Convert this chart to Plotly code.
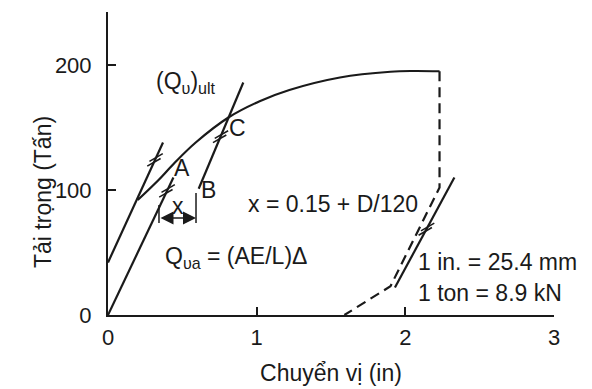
import plotly.graph_objects as go

# ---------------- data ----------------
# load-settlement curve (displacement in in, load in tons)
curve_x = [0.20, 0.34, 0.45, 0.59, 0.81, 1.02, 1.22, 1.56, 1.90, 2.05, 2.23]
curve_y = [92, 108, 122, 138, 158, 171, 180, 190, 194.6, 195.2, 195]

# straight initial branch of the load curve (starts on the load axis)
branch_x = [0.0, 0.37]
branch_y = [42, 138]

# elastic line Q = (AE/L)Δ through the origin
elastic_x = [0.0, 0.44]
elastic_y = [0, 110]

# offset line (parallel to the elastic line, shifted by x) through B and C
offset_x = [0.61, 0.91]
offset_y = [101, 186]

# reloading / parallel line on the right
right_x = [1.93, 2.33]
right_y = [22, 110]

# unloading (dashed) path
unload_x = [2.23, 2.23, 1.90, 1.59]
unload_y = [195, 102, 23, 0]

# offset dimension "x"
dim_left_x = 0.343
dim_right_x = 0.592
dim_left_y = [88, 73.6]
dim_right_y = [97.6, 73.6]
dim_arrow_y = 77.6

x_ticks = [0, 1, 2, 3]
y_ticks = [0, 100, 200]

# fractions along lines where the "//" marks sit
branch_marks = [0.835, 0.875]
elastic_marks = [0.885, 0.92]
offset_marks = [0.47, 0.51]
right_marks = [0.51, 0.55]

INK = "#1a1a1a"
FONT = "Liberation Sans, Arial, sans-serif"

fig = go.Figure()


def add_line(x, y, dash=None, shape="linear"):
    fig.add_trace(go.Scatter(
        x=x, y=y, mode="lines",
        line=dict(color=INK, width=2.2, dash=dash, shape=shape, smoothing=1.0),
        hoverinfo="skip", showlegend=False))


def add_marks(xs, ys, ts):
    mx = [xs[0] + t * (xs[1] - xs[0]) for t in ts]
    my = [ys[0] + t * (ys[1] - ys[0]) for t in ts]
    fig.add_trace(go.Scatter(
        x=mx, y=my, mode="markers",
        marker=dict(symbol="line-ew", size=11, angle=-30,
                    line=dict(width=1.6, color=INK)),
        hoverinfo="skip", showlegend=False))


add_line(curve_x, curve_y, shape="spline")
add_line(branch_x, branch_y)
add_line(elastic_x, elastic_y)
add_line(offset_x, offset_y)
add_line(right_x, right_y)
add_line(unload_x, unload_y, dash="10px,6px")

add_marks(branch_x, branch_y, branch_marks)
add_marks(elastic_x, elastic_y, elastic_marks)
add_marks(offset_x, offset_y, offset_marks)
add_marks(right_x, right_y, right_marks)

# dimension lines
fig.add_trace(go.Scatter(x=[dim_left_x, dim_left_x], y=dim_left_y, mode="lines",
                         line=dict(color=INK, width=1.5), hoverinfo="skip", showlegend=False))
fig.add_trace(go.Scatter(x=[dim_right_x, dim_right_x], y=dim_right_y, mode="lines",
                         line=dict(color=INK, width=1.5), hoverinfo="skip", showlegend=False))
fig.add_annotation(x=dim_right_x, y=dim_arrow_y, ax=dim_left_x, ay=dim_arrow_y,
                   xref="x", yref="y", axref="x", ayref="y", text="",
                   showarrow=True, arrowhead=2, arrowside="end+start",
                   arrowsize=2, arrowwidth=1.3, arrowcolor=INK, standoff=0, startstandoff=0)

FS = 23
def label(text, x, y, xanchor="left", size=FS):
    fig.add_annotation(x=x, y=y, xref="x", yref="y", text=text, showarrow=False,
                       xanchor=xanchor, yanchor="middle",
                       font=dict(family=FONT, size=size, color=INK))


label("(Q<sub>υ</sub>)<sub>ult</sub>", 0.31, 186)
label("A", 0.498, 117.6, xanchor="center")
label("B", 0.679, 100, xanchor="center")
label("C", 0.868, 149.6, xanchor="center")
label("x", 0.471, 87.5, xanchor="center")
label("x = 0.15 + D/120", 0.93, 88.8)
label("Q<sub>υa</sub> = (AE/L)Δ", 0.37, 46)
label("1 in. = 25.4 mm", 2.07, 42.4)
label("1 ton = 8.9 kN", 2.07, 17.6)

# y axis title (placed in paper coordinates)
fig.add_annotation(x=(28 - 108) / (592 - 108 - 38), y=(315 - 192) / (315 - 12),
                   xref="paper", yref="paper", text="Tải trọng (Tấn)",
                   showarrow=False, textangle=-90,
                   font=dict(family=FONT, size=FS, color=INK))

fig.update_layout(
    width=592, height=389, autosize=False,
    margin=dict(l=108, r=38, t=12, b=74),
    paper_bgcolor="white", plot_bgcolor="white",
    font=dict(family=FONT, color=INK),
    xaxis=dict(range=[0, 3], tickvals=x_ticks, showgrid=False, zeroline=False,
               showline=True, linecolor=INK, linewidth=2, automargin=False,
               ticks="inside", ticklen=8, tickwidth=2, tickcolor=INK,
               tickfont=dict(family=FONT, size=22, color=INK), ticklabelstandoff=2,
               title=dict(text="Chuyển vị (in)", font=dict(family=FONT, size=FS, color=INK),
                          standoff=15)),
    yaxis=dict(range=[0, 242.4], tickvals=y_ticks, showgrid=False, zeroline=False,
               showline=True, linecolor=INK, linewidth=2, automargin=False,
               ticks="inside", ticklen=8, tickwidth=2, tickcolor=INK,
               tickfont=dict(family=FONT, size=22, color=INK), ticklabelstandoff=10),
)

fig.write_html("out.html")
